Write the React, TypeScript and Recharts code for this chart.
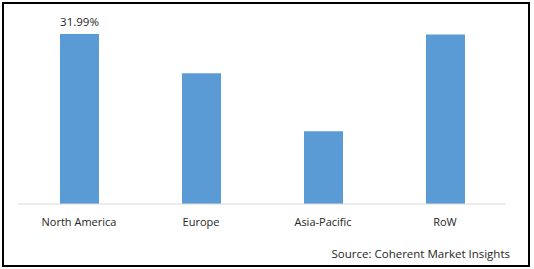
import { Bar, BarChart, LabelList, XAxis, YAxis } from 'recharts';

const regions = ['North America', 'Europe', 'Asia-Pacific', 'RoW'];
const shares = [31.99, 24.6, 13.7, 31.9];
const labels = ['31.99%', '', '', ''];

const data = regions.map((r, i) => ({ region: r, share: shares[i], label: labels[i] }));

const font = '"Open Sans", "Noto Sans", sans-serif';

export default function App() {
  return (
    <div style={{ position: 'absolute', left: 0, top: 0, width: 534, height: 269, background: '#fff', fontFamily: font }}>
      <div
        style={{
          position: 'absolute',
          left: 2,
          top: 2,
          width: 528,
          height: 265,
          border: '2px solid #000',
          boxSizing: 'border-box',
        }}
      />
      <BarChart
        width={534}
        height={269}
        data={data}
        margin={{ top: 18, right: 28, left: 18, bottom: 35 }}
        style={{ position: 'absolute', left: 0, top: 0 }}
      >
        <XAxis
          dataKey="region"
          height={30}
          axisLine={{ stroke: '#d9d9d9' }}
          tickLine={false}
          tickMargin={8}
          tick={{ fontSize: 11, fill: '#262626', fontFamily: font }}
          interval={0}
        />
        <YAxis hide domain={[0, 35]} />
        <Bar dataKey="share" fill="#5b9bd5" barSize={39} isAnimationActive={false}>
          <LabelList dataKey="label" position="top" offset={8} style={{ fontSize: 11.5, fill: '#262626', fontFamily: font }} />
        </Bar>
      </BarChart>
      <div
        style={{
          position: 'absolute',
          right: 24,
          top: 246,
          fontSize: 11.5,
          color: '#262626',
          lineHeight: '16px',
        }}
      >
        Source: Coherent Market Insights
      </div>
    </div>
  );
}
